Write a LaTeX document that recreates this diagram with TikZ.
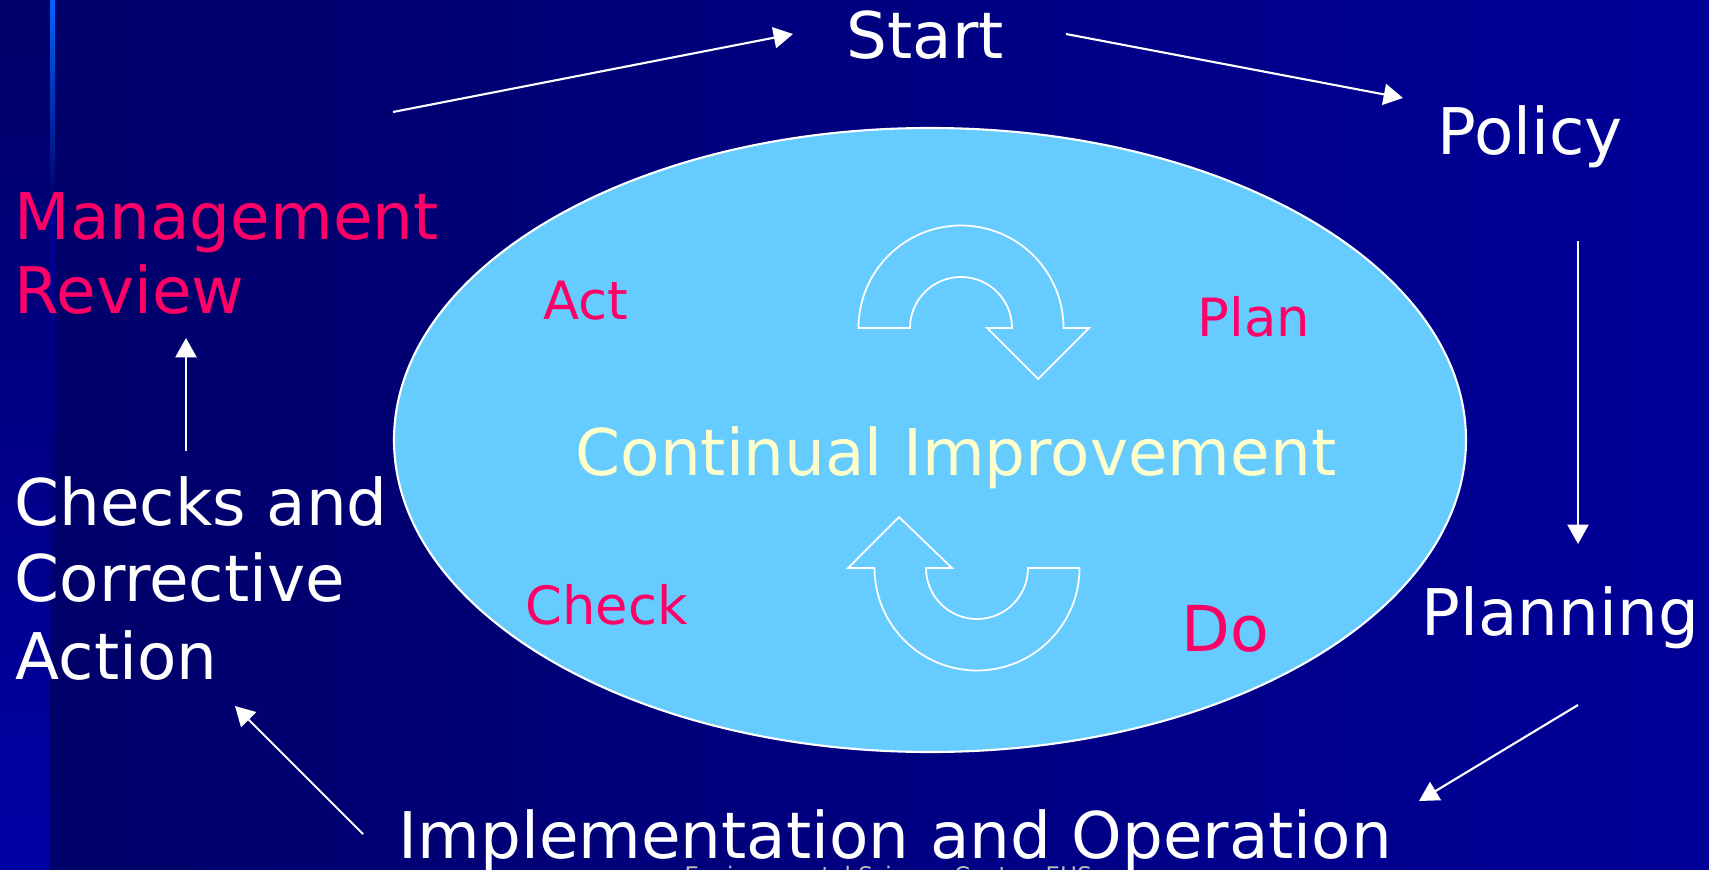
\documentclass[tikz,border=0pt]{standalone}
\usepackage{fontspec}
\setmainfont{DejaVu Sans}
\usetikzlibrary{arrows.meta}
\definecolor{navy}{RGB}{0,0,104}
\definecolor{royal}{RGB}{0,0,152}
\definecolor{stripblue}{RGB}{0,0,165}
\definecolor{stripline}{RGB}{0,102,255}
\definecolor{stripfade}{RGB}{0,0,150}
\definecolor{skyfill}{RGB}{102,204,255}
\definecolor{pinkred}{RGB}{255,0,102}
\definecolor{paleyellow}{RGB}{255,255,204}
\definecolor{footgray}{RGB}{190,190,190}
\begin{document}
\begin{tikzpicture}[x=0.01cm,y=-0.01cm,
  bigtext/.style={text=white,inner sep=0pt,anchor=base west,font=\fontsize{18.3}{22}\selectfont},
  reviewtext/.style={bigtext,text=pinkred},
  pdcatext/.style={text=pinkred,inner sep=0pt,anchor=base west,font=\fontsize{15}{18}\selectfont},
  footertext/.style={text=footgray,inner sep=0pt,anchor=base west,font=\fontsize{6.5}{8}\selectfont},
  flow/.style={draw=white,line width=0.6pt,-{Triangle[length=5.5pt,width=6pt]}},
  cyclearrow/.style={draw=white,line width=0.5pt}]
\useasboundingbox (0,0) rectangle (1709,870);
% background
\shade[left color=navy,right color=royal] (0,0) rectangle (1709,870);
\shade[top color=navy,bottom color=stripblue] (0,0) rectangle (50,870);
\shade[top color=stripline,bottom color=navy] (50,0) rectangle (55,200);
\shade[top color=stripfade,bottom color=navy] (50,200) rectangle (55,720);
% ellipse
\draw[white,line width=0.6pt,fill=skyfill] (930,440) ellipse [x radius=536,y radius=312];
% circular arrows
\draw[cyclearrow] (1012,328) -- (987,328) -- (1038,379) -- (1089,328) -- (1063.5,328)
  arc[start angle=0,end angle=-180,radius=102.5] -- (910,328)
  arc[start angle=180,end angle=360,radius=51] -- cycle;
\draw[cyclearrow] (926,568) -- (952,568) -- (899,517) -- (848,568) -- (874.5,568)
  arc[start angle=180,end angle=0,radius=102.5] -- (1028,568)
  arc[start angle=0,end angle=180,radius=51] -- cycle;
% labels
\node[bigtext] (start) at (846,59) {Start};
\node[bigtext] (policy) at (1437,155) {Policy};
\node[bigtext] (planning) at (1421,635) {Planning};
\node[bigtext] (impl) at (398,858) {Implementation and Operation};
\node[bigtext] (checks) at (14,525) {Checks and};
\node[bigtext] (corrective) at (14,601) {Corrective};
\node[bigtext] (action) at (15,679) {Action};
\node[reviewtext] (mgmt) at (14,239) {Management};
\node[reviewtext] (review) at (14,314) {Review};
\node[pdcatext] (act) at (543,320) {Act};
\node[pdcatext] (plan) at (1197,336) {Plan};
\node[pdcatext] (check) at (525,624) {Check};
\node[pdcatext,font=\fontsize{18}{22}\selectfont] (do) at (1181,651) {Do};
\node[bigtext,text=paleyellow] (ci) at (575,475) {Continual Improvement};
\node[footertext] (footer) at (684,883) {Environmental Science Center, EHS};
% arrow ends
\coordinate (mgmt-out) at (393,112);
\coordinate (start-in) at (793,34);
\coordinate (start-out) at (1066,34);
\coordinate (policy-in) at (1403,98);
\coordinate (policy-out) at (1578,241);
\coordinate (planning-in) at (1578,544);
\coordinate (planning-out) at (1578,705);
\coordinate (impl-in) at (1419,801);
\coordinate (impl-out) at (363,834);
\coordinate (checks-in) at (235,706);
\coordinate (checks-out) at (186,451);
\coordinate (mgmt-in) at (186,338);
\draw[flow] (mgmt-out) -- (start-in);
\draw[flow] (start-out) -- (policy-in);
\draw[flow] (policy-out) -- (planning-in);
\draw[flow] (planning-out) -- (impl-in);
\draw[flow] (impl-out) -- (checks-in);
\draw[flow] (checks-out) -- (mgmt-in);
\end{tikzpicture}
\end{document}
